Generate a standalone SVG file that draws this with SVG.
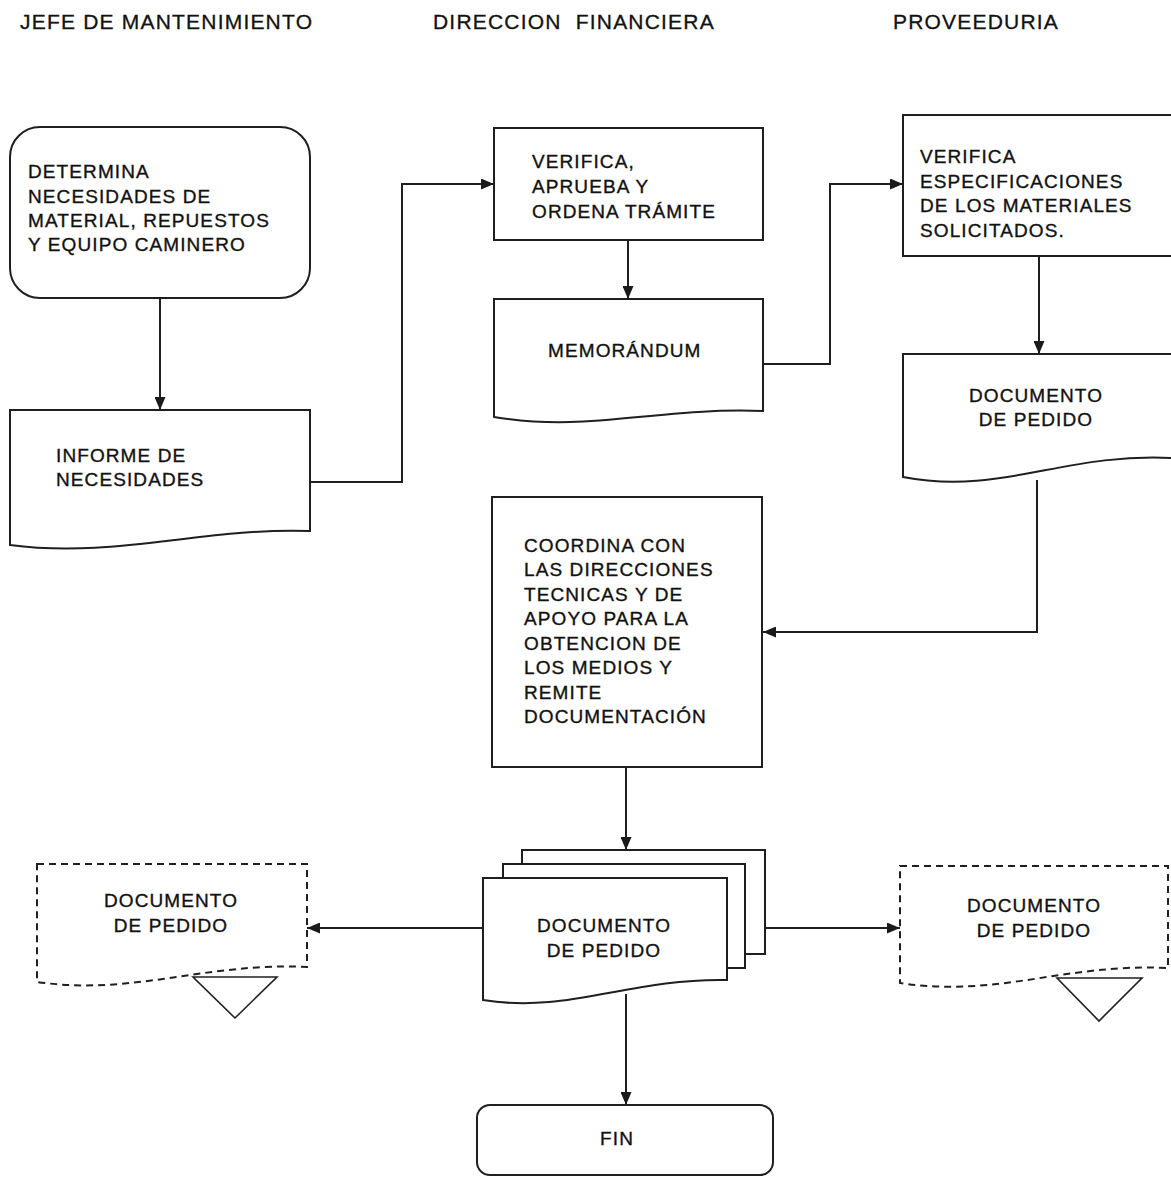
<svg xmlns="http://www.w3.org/2000/svg" width="1171" height="1178" viewBox="0 0 1171 1178">
  <defs>
    <marker id="arrow" viewBox="0 0 13 11" refX="13" refY="5.5" markerWidth="13" markerHeight="11" markerUnits="userSpaceOnUse" orient="auto">
      <path d="M0,0 L13,5.5 L0,11 z" fill="#1a1a1a"/>
    </marker>
    <style>
      .shape { fill: #ffffff; stroke: #1f1f1f; stroke-width: 2; }
      .dashed { fill: #ffffff; stroke: #1f1f1f; stroke-width: 2; stroke-dasharray: 7 5; }
      .tri { fill: none; stroke: #1f1f1f; stroke-width: 1.6; }
      .conn { fill: none; stroke: #1f1f1f; stroke-width: 2; }
      .lbl { font-family: "Liberation Sans", Arial, sans-serif; font-size: 19px; fill: #111; stroke: #111; stroke-width: 0.35px; letter-spacing: 1.1px; }
      .hdr { font-family: "Liberation Sans", Arial, sans-serif; font-size: 21px; fill: #111; stroke: #111; stroke-width: 0.3px; letter-spacing: 1.2px; }
      .mid { text-anchor: middle; }
    </style>
  </defs>
  <rect width="1171" height="1178" fill="#ffffff"/>

  <!-- lane headings -->
  <g id="headers">
    <text class="hdr" x="20" y="29">JEFE DE MANTENIMIENTO</text>
    <text class="hdr" x="433" y="29" xml:space="preserve">DIRECCION  FINANCIERA</text>
    <text class="hdr" x="893" y="29">PROVEEDURIA</text>
  </g>

  <!-- connectors -->
  <g id="connectors">
    <path class="conn" d="M160,298 V410" marker-end="url(#arrow)"/>
    <path class="conn" d="M310,482 H402 V184 H494" marker-end="url(#arrow)"/>
    <path class="conn" d="M628,240 V299" marker-end="url(#arrow)"/>
    <path class="conn" d="M763,364 H830 V184 H903" marker-end="url(#arrow)"/>
    <path class="conn" d="M1039,256 V354" marker-end="url(#arrow)"/>
    <path class="conn" d="M1037,480 V632 H763" marker-end="url(#arrow)"/>
    <path class="conn" d="M626,767 V850" marker-end="url(#arrow)"/>
    <path class="conn" d="M483,928 H307" marker-end="url(#arrow)"/>
    <path class="conn" d="M765,928 H900" marker-end="url(#arrow)"/>
    <path class="conn" d="M626,994 V1105" marker-end="url(#arrow)"/>
  </g>

  <!-- start: needs assessment -->
  <g id="n-determina">
    <rect class="shape" x="10" y="127" width="300" height="171" rx="30" ry="30"/>
    <text class="lbl" x="28" y="178">DETERMINA</text>
    <text class="lbl" x="28" y="203">NECESIDADES DE</text>
    <text class="lbl" x="28" y="227">MATERIAL, REPUESTOS</text>
    <text class="lbl" x="28" y="251">Y EQUIPO CAMINERO</text>
  </g>

  <g id="n-informe">
    <path class="shape" d="M10,410 H310 V531 C205,527 115,559 10,545 Z"/>
    <text class="lbl" x="56" y="462">INFORME DE</text>
    <text class="lbl" x="56" y="486">NECESIDADES</text>
  </g>

  <g id="n-verifica-aprueba">
    <rect class="shape" x="494" y="128" width="269" height="112"/>
    <text class="lbl" x="532" y="168">VERIFICA,</text>
    <text class="lbl" x="532" y="193">APRUEBA Y</text>
    <text class="lbl" x="532" y="218">ORDENA TRÁMITE</text>
  </g>

  <g id="n-memorandum">
    <path class="shape" d="M494,299 H763 V411 C655,407 590,433 494,417 Z"/>
    <text class="lbl" x="548" y="357">MEMORÁNDUM</text>
  </g>

  <g id="n-verifica-specs">
    <rect class="shape" x="903" y="115" width="270" height="141"/>
    <text class="lbl" x="920" y="163">VERIFICA</text>
    <text class="lbl" x="920" y="188">ESPECIFICACIONES</text>
    <text class="lbl" x="920" y="212">DE LOS MATERIALES</text>
    <text class="lbl" x="920" y="237">SOLICITADOS.</text>
  </g>

  <g id="n-doc-proveeduria">
    <path class="shape" d="M903,354 H1173 V458 C1065,452 1000,496 903,477 Z"/>
    <text class="lbl mid" x="1036" y="402">DOCUMENTO</text>
    <text class="lbl mid" x="1036" y="426">DE PEDIDO</text>
  </g>

  <g id="n-coordina">
    <rect class="shape" x="492" y="497" width="270" height="270"/>
    <text class="lbl" x="524" y="552">COORDINA CON</text>
    <text class="lbl" x="524" y="576">LAS DIRECCIONES</text>
    <text class="lbl" x="524" y="601">TECNICAS Y DE</text>
    <text class="lbl" x="524" y="625">APOYO PARA LA</text>
    <text class="lbl" x="524" y="650">OBTENCION DE</text>
    <text class="lbl" x="524" y="674">LOS MEDIOS Y</text>
    <text class="lbl" x="524" y="699">REMITE</text>
    <text class="lbl" x="524" y="723">DOCUMENTACIÓN</text>
  </g>

  <!-- stacked copies of the order document -->
  <g id="n-doc-copias">
    <path class="shape" d="M522,864 V850 H765 V954 H745"/>
    <path class="shape" d="M503,878 V864 H745 V968 H727"/>
    <path class="shape" d="M483,878 H727 V980 C629,978 568,1014 483,1000 Z"/>
    <text class="lbl mid" x="604" y="932">DOCUMENTO</text>
    <text class="lbl mid" x="604" y="957">DE PEDIDO</text>
  </g>

  <g id="n-doc-archivo-jefe">
    <path class="dashed" d="M37,864 H307 V967 C205,962 135,996 37,982 Z"/>
    <path class="tri" d="M193,977 H277 L235,1018 Z"/>
    <text class="lbl mid" x="171" y="907">DOCUMENTO</text>
    <text class="lbl mid" x="171" y="932">DE PEDIDO</text>
  </g>

  <g id="n-doc-archivo-proveeduria">
    <path class="dashed" d="M900,866 H1168 V968 C1065,963 998,998 900,983 Z"/>
    <path class="tri" d="M1057,978 H1142 L1099,1021 Z"/>
    <text class="lbl mid" x="1034" y="912">DOCUMENTO</text>
    <text class="lbl mid" x="1034" y="937">DE PEDIDO</text>
  </g>

  <g id="n-fin">
    <rect class="shape" x="477" y="1105" width="296" height="70" rx="13" ry="13"/>
    <text class="lbl mid" x="617" y="1145">FIN</text>
  </g>
</svg>
